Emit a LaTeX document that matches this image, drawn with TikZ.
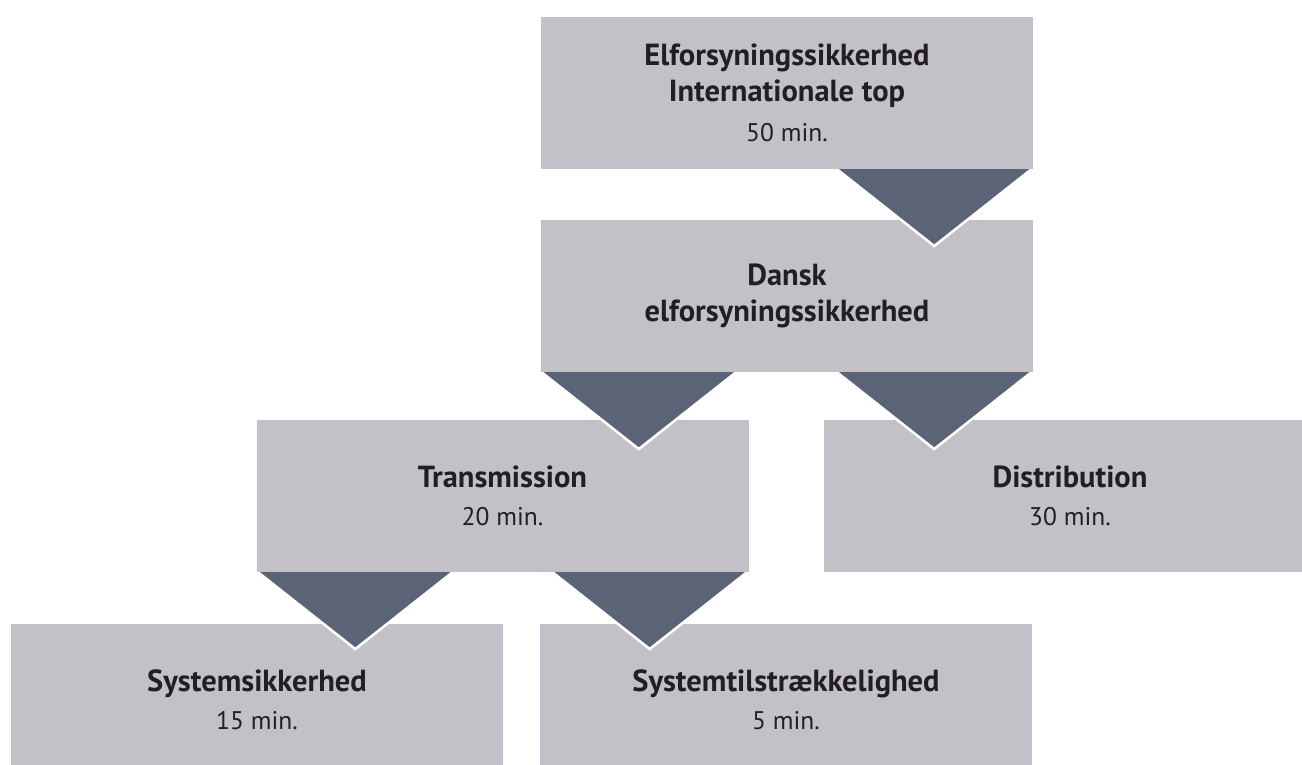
\documentclass[tikz,border=0pt]{standalone}
\usepackage{fontspec}
\setmainfont{PT Sans}
\usetikzlibrary{calc}
\definecolor{boxgray}{HTML}{C2C1C7}
\definecolor{tridark}{HTML}{5B6477}
\definecolor{txtcol}{HTML}{231F20}
\newcommand{\boxhead}{\fontsize{30.5}{36}\selectfont\bfseries}
\newcommand{\boxtime}{\fontsize{25.5}{36}\selectfont\mdseries}
\newcommand{\downtri}[1]{%
  \fill[white] ($(#1)+(-99,0)$) -- ($(#1)+(99,0)$) -- ($(#1)+(0,-78.5)$) -- cycle;
  \fill[tridark] ($(#1)+(-95,0)$) -- ($(#1)+(95,0)$) -- ($(#1)+(0,-75)$) -- cycle;}
\begin{document}
\begin{tikzpicture}[x=1pt,y=1pt,
  stagebox/.style={fill=boxgray, minimum width=492pt, minimum height=152pt,
    inner sep=0pt, align=center, text=txtcol, font=\fontsize{28}{36}\selectfont}]
\useasboundingbox (0,0) rectangle (1302,764);
\begin{scope}
\clip (0,0) rectangle (1302,764);
\node[stagebox] (b1) at (787,671) {{\boxhead Elforsyningssikkerhed}\\{\boxhead Internationale top}\\[4pt]{\boxtime 50 min.}};
\node[stagebox] (b2) at (787,468) {{\boxhead Dansk}\\{\boxhead elforsyningssikkerhed}};
\node[stagebox] (b3) at (502.5,268) {{\boxhead Transmission}\\[2pt]{\boxtime 20 min.}};
\node[stagebox] (b4) at (1070,268) {{\boxhead Distribution}\\[2pt]{\boxtime 30 min.}};
\node[stagebox] (b5) at (257,64) {{\boxhead Systemsikkerhed}\\[2pt]{\boxtime 15 min.}};
\node[stagebox] (b6) at (786,64) {{\boxhead Systemtilstrækkelighed}\\[2pt]{\boxtime 5 min.}};
\coordinate (t1) at ($(b1.south east)+(-99,0)$);
\coordinate (t2) at ($(b2.south west)+(98,0)$);
\coordinate (t3) at ($(b2.south east)+(-99,0)$);
\coordinate (t4) at ($(b3.south west)+(99,0)$);
\coordinate (t5) at ($(b3.south east)+(-99,0)$);
\downtri{t1}
\downtri{t2}
\downtri{t3}
\downtri{t4}
\downtri{t5}
\end{scope}
\end{tikzpicture}
\end{document}
